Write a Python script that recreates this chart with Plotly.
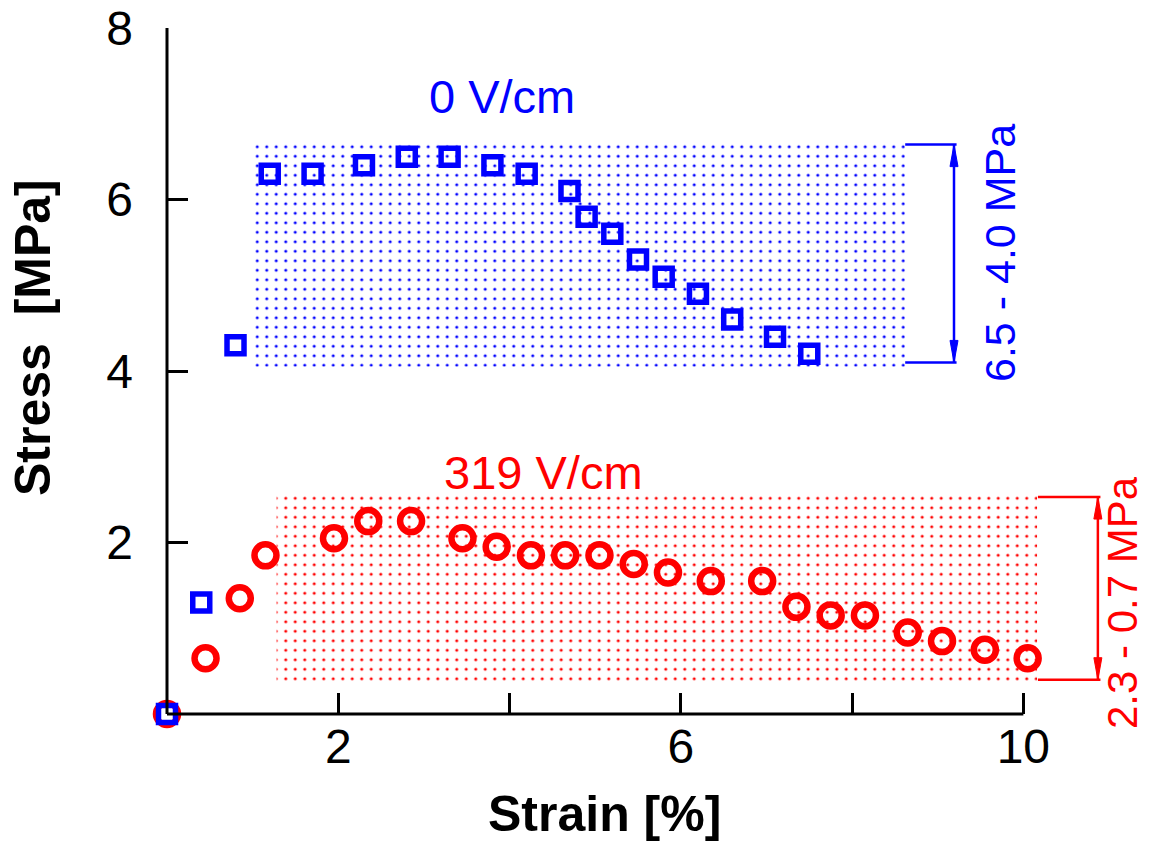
import plotly.graph_objects as go

# ---------------- data ----------------
strain_0 = [0.0, 0.4, 0.8, 1.2, 1.7, 2.3, 2.8, 3.3, 3.8, 4.2, 4.7, 4.9, 5.2, 5.5, 5.8, 6.2, 6.6, 7.1, 7.5]
stress_0 = [0.0, 1.3, 4.3, 6.3, 6.3, 6.4, 6.5, 6.5, 6.4, 6.3, 6.1, 5.8, 5.6, 5.3, 5.1, 4.9, 4.6, 4.4, 4.2]

strain_319 = [0.0, 0.45, 0.85, 1.15, 1.95, 2.35, 2.85, 3.45, 3.85, 4.25, 4.65, 5.05,
              5.45, 5.85, 6.35, 6.95, 7.35, 7.75, 8.15, 8.65, 9.05, 9.55, 10.05]
stress_319 = [0.0, 0.65, 1.35, 1.85, 2.05, 2.25, 2.25, 2.05, 1.95, 1.85, 1.85, 1.85,
              1.75, 1.65, 1.55, 1.55, 1.25, 1.15, 1.15, 0.95, 0.85, 0.75, 0.65]

x_tickvals = [2, 4, 6, 8, 10]
x_ticktext = ["2", "", "6", "", "10"]
y_tickvals = [2, 4, 6, 8]
y_ticktext = ["2", "4", "6", "8"]

series_labels = ["0 V/cm", "319 V/cm"]
range_labels = ["6.5 - 4.0 MPa", "2.3 - 0.7 MPa"]

# stress bands (x0, x1, y0, y1)
band_0 = (1.03, 8.62, 4.05, 6.68)
band_319 = (1.28, 10.16, 0.38, 2.55)
# range brackets (x_start, x_line, y_low, y_high)
bracket_0 = (8.62, 9.19, 4.10, 6.64)
bracket_319 = (10.17, 10.87, 0.40, 2.53)

BLUE = "#0000FF"
RED = "#FF0000"
FONT = "Liberation Sans"

# pixel geometry
L, R, T, B = 167, 40, 28, 131
W, H = 1149, 845
PW, PH = W - L - R, H - T - B
XR = (0, 11)
YR = (0, 8)
px_x = PW / (XR[1] - XR[0])
px_y = PH / (YR[1] - YR[0])

fig = go.Figure()


def band_trace(b, color):
    x0, x1, y0, y1 = b
    return go.Scatter(
        x=[x0, x1, x1, x0, x0], y=[y0, y0, y1, y1, y0],
        mode="lines", line=dict(width=0, color="rgba(0,0,0,0)"),
        fill="toself", fillcolor="rgba(0,0,0,0)",
        fillpattern=dict(shape=".", size=9.5, solidity=0.08, fgcolor=color,
                         bgcolor="rgba(255,255,255,0)", fillmode="replace"),
        hoverinfo="skip", showlegend=False,
    )


fig.add_trace(band_trace(band_319, RED))
fig.add_trace(band_trace(band_0, BLUE))

fig.add_trace(go.Scatter(
    x=strain_319, y=stress_319, mode="markers", name=series_labels[1],
    marker=dict(symbol="circle-open", size=22, color=RED, line=dict(width=6.5, color=RED)),
    cliponaxis=False, showlegend=False,
))
fig.add_trace(go.Scatter(
    x=strain_0, y=stress_0, mode="markers", name=series_labels[0],
    marker=dict(symbol="square-open", size=17, color=BLUE, line=dict(width=5.5, color=BLUE)),
    cliponaxis=False, showlegend=False,
))

shapes = []
# axis lines
shapes.append(dict(type="line", xref="x", yref="paper", x0=0, x1=10, y0=0, y1=0,
                   line=dict(color="black", width=3)))
shapes.append(dict(type="line", xref="paper", yref="y", x0=0, x1=0, y0=0, y1=8,
                   line=dict(color="black", width=3)))


def bracket_shapes(br, color):
    xs, xl, ylo, yhi = br
    out = []
    out.append(dict(type="line", xref="x", yref="y", x0=xs, x1=xl + 0.03, y0=yhi, y1=yhi,
                    line=dict(color=color, width=2.5)))
    out.append(dict(type="line", xref="x", yref="y", x0=xs, x1=xl + 0.03, y0=ylo, y1=ylo,
                    line=dict(color=color, width=2.5)))
    out.append(dict(type="line", xref="x", yref="y", x0=xl, x1=xl, y0=ylo, y1=yhi,
                    line=dict(color=color, width=2.5)))
    hl = 22 / px_y
    hw = 4 / px_x
    for tip, sgn in ((yhi, -1), (ylo, 1)):
        path = (f"M {xl},{tip} L {xl - hw},{tip + sgn * hl} "
                f"L {xl + hw},{tip + sgn * hl} Z")
        out.append(dict(type="path", xref="x", yref="y", path=path,
                        fillcolor=color, line=dict(color=color, width=1)))
    return out


shapes += bracket_shapes(bracket_0, BLUE)
shapes += bracket_shapes(bracket_319, RED)


def px2paper_x(px):
    return (px - L) / PW


def px2paper_y(py):
    return (T + PH - py) / PH


annotations = [
    dict(text=series_labels[0], x=px2paper_x(502), y=px2paper_y(97), xref="paper", yref="paper",
         showarrow=False, font=dict(family=FONT, size=47, color=BLUE),
         xanchor="center", yanchor="middle"),
    dict(text=series_labels[1], x=px2paper_x(543), y=px2paper_y(472), xref="paper", yref="paper",
         showarrow=False, font=dict(family=FONT, size=47, color=RED),
         xanchor="center", yanchor="middle"),
    dict(text=range_labels[0], x=px2paper_x(1000), y=px2paper_y(253), xref="paper", yref="paper",
         showarrow=False, textangle=-90, font=dict(family=FONT, size=43, color=BLUE),
         xanchor="center", yanchor="middle"),
    dict(text=range_labels[1], x=px2paper_x(1122), y=px2paper_y(603), xref="paper", yref="paper",
         showarrow=False, textangle=-90, font=dict(family=FONT, size=42, color=RED),
         xanchor="center", yanchor="middle"),
    dict(text="Strain [%]", x=px2paper_x(604), y=px2paper_y(814), xref="paper", yref="paper",
         showarrow=False, font=dict(family=FONT, size=50, color="black", weight="bold"),
         xanchor="center", yanchor="middle"),
    dict(text="Stress  [MPa]", x=px2paper_x(33), y=px2paper_y(338), xref="paper",
         yref="paper", showarrow=False, textangle=-90,
         font=dict(family=FONT, size=50, color="black", weight="bold"),
         xanchor="center", yanchor="middle"),
]

fig.update_layout(
    width=W, height=H,
    margin=dict(l=L, r=R, t=T, b=B, autoexpand=False),
    paper_bgcolor="white", plot_bgcolor="white",
    showlegend=False,
    shapes=shapes,
    annotations=annotations,
    xaxis=dict(range=list(XR), showgrid=False, zeroline=False, showline=False,
               automargin=False,
               tickmode="array", tickvals=x_tickvals, ticktext=x_ticktext,
               ticks="inside", ticklen=21, tickwidth=3, tickcolor="black",
               tickfont=dict(family=FONT, size=48, color="black")),
    yaxis=dict(range=list(YR), showgrid=False, zeroline=False, showline=False,
               automargin=False, ticklabelstandoff=33,
               tickmode="array", tickvals=y_tickvals, ticktext=y_ticktext,
               ticks="inside", ticklen=21, tickwidth=3, tickcolor="black",
               tickfont=dict(family=FONT, size=48, color="black")),
)

fig.write_html("out.html")
